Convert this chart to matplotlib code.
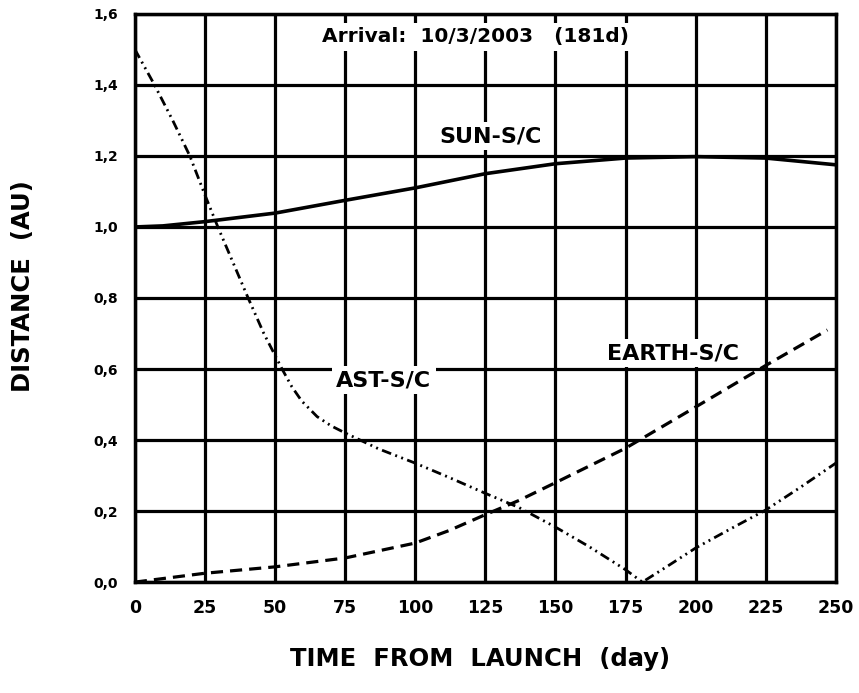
import matplotlib
matplotlib.use("Agg")
import matplotlib.pyplot as plt

plt.rcParams['font.family'] = ['DejaVu Sans']

# Data
sun_days = [0, 10, 25, 50, 75, 100, 125, 150, 175, 200, 225, 250]
sun_dist = [1.0, 1.003, 1.015, 1.039, 1.075, 1.11, 1.15, 1.178, 1.194, 1.198, 1.194, 1.175]

ast_days = [0, 7, 13.5, 19.6, 25, 29.6, 35, 40.4, 46, 52.5, 56, 59.5, 65, 70, 75, 87, 100, 112, 125, 137, 150, 162, 175, 181, 190, 200, 212, 225, 237, 250]
ast_dist = [1.5, 1.4, 1.3, 1.2, 1.09, 1.0, 0.9, 0.8, 0.7, 0.6, 0.55, 0.51, 0.466, 0.44, 0.42, 0.375, 0.335, 0.295, 0.25, 0.21, 0.155, 0.10, 0.035, 0.0, 0.045, 0.096, 0.148, 0.203, 0.265, 0.335]

earth_days = [0, 10, 25, 50, 75, 100, 112, 125, 137, 150, 175, 200, 225, 247]
earth_dist = [0.0, 0.01, 0.025, 0.043, 0.068, 0.11, 0.145, 0.19, 0.23, 0.28, 0.377, 0.493, 0.61, 0.71]

x_ticks = [0, 25, 50, 75, 100, 125, 150, 175, 200, 225, 250]
y_ticks = [0.0, 0.2, 0.4, 0.6, 0.8, 1.0, 1.2, 1.4, 1.6]
y_labels = ['0,0', '0,2', '0,4', '0,6', '0,8', '1,0', '1,2', '1,4', '1,6']

fig = plt.figure(figsize=(8.59, 6.93), dpi=100)
ax = fig.add_axes([0.157, 0.160, 0.816, 0.820])
ax.set_xlim(0, 250)
ax.set_ylim(0, 1.6)

ax.set_xticks(x_ticks)
ax.set_xticklabels([str(t) for t in x_ticks], fontsize=12.5, fontweight='bold')
ax.set_yticks(y_ticks)
ax.set_yticklabels(y_labels, fontsize=10, fontweight='bold')
ax.tick_params(axis='x', length=0, pad=12)
ax.tick_params(axis='y', length=0, pad=12)
ax.grid(True, color='black', linewidth=2.3)
ax.set_axisbelow(True)
for s in ax.spines.values():
    s.set_linewidth(2.5)

ax.plot(sun_days, sun_dist, color='black', linewidth=2.6, linestyle='-')
ax.plot(earth_days, earth_dist, color='black', linewidth=2.3, linestyle=(0, (3.8, 2.2)))
ax.plot(ast_days, ast_dist, color='black', linewidth=2.0, linestyle=(0, (3.5, 1.6, 0.7, 1.6, 0.7, 1.6)))

box = dict(facecolor='white', edgecolor='none', pad=3)
ax.text(121.5, 1.535, 'Arrival:  10/3/2003   (181d)', ha='center', va='center',
        fontsize=14.5, fontweight='bold', bbox=box)
lab = dict(ha='center', va='center', fontsize=16, fontweight='bold', bbox=box)
ax.text(127, 1.256, 'SUN-S/C', **lab)
ax.text(88.8, 0.569, 'AST-S/C', **lab)
ax.text(191.8, 0.645, 'EARTH-S/C', **lab)

fig.text(0.027, 0.587, 'DISTANCE  (AU)', rotation=90, ha='center', va='center', fontsize=17.5, fontweight='bold')
fig.text(0.559, 0.049, 'TIME  FROM  LAUNCH  (day)', ha='center', va='center', fontsize=17.5, fontweight='bold')

fig.savefig('out.png', dpi=100)
